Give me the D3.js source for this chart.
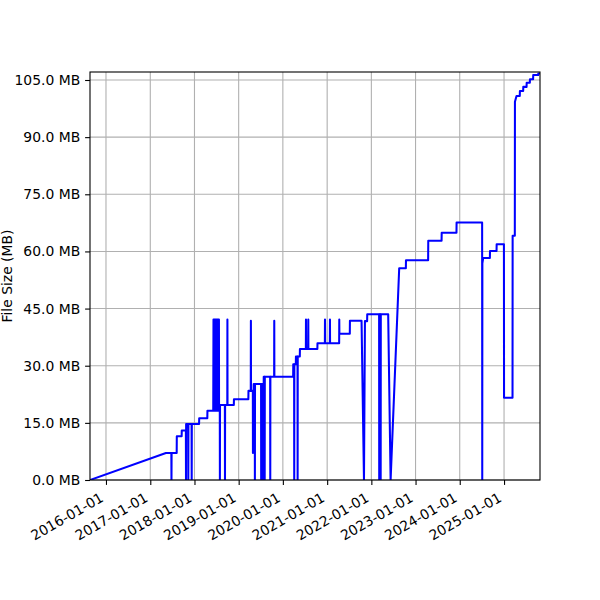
<!DOCTYPE html>
<html>
<head>
<meta charset="utf-8">
<script src="https://cdn.jsdelivr.net/npm/d3@7"></script>
<style>
  html, body { margin: 0; padding: 0; background: #fff; }
  svg { display: block; font-family: "DejaVu Sans", sans-serif; }
</style>
</head>
<body>
<div id="chart"></div>
<script>
// ---- data ----
const dates = [
  "2015-08-22","2017-05-10","2017-06-24","2017-06-25","2017-06-26","2017-08-07","2017-08-08",
  "2017-09-17","2017-09-18","2017-10-22","2017-10-23","2017-10-24","2017-11-10","2017-11-11",
  "2017-11-12","2017-12-08","2017-12-09","2017-12-10","2018-02-08","2018-02-09","2018-04-17",
  "2018-04-18","2018-06-05","2018-06-07","2018-06-10","2018-06-13","2018-06-16","2018-06-19",
  "2018-06-22","2018-06-25","2018-06-28","2018-07-01","2018-07-04","2018-07-07","2018-07-10",
  "2018-07-13","2018-07-16","2018-07-19","2018-07-22","2018-07-23","2018-07-29","2018-07-30",
  "2018-07-31","2018-09-09","2018-09-10","2018-09-11","2018-09-29","2018-09-30","2018-10-01",
  "2018-11-22","2018-11-23","2019-03-22","2019-03-23","2019-04-11","2019-04-12","2019-04-13",
  "2019-04-28","2019-04-29","2019-05-05","2019-05-14","2019-05-15","2019-05-16","2019-07-05",
  "2019-07-06","2019-07-07","2019-07-17","2019-07-18","2019-07-19","2019-07-25","2019-07-26",
  "2019-07-27","2019-08-03","2019-08-04","2019-08-05","2019-09-18","2019-09-19","2019-09-20",
  "2019-10-21","2019-10-22","2019-10-23","2020-03-26","2020-03-27","2020-04-03","2020-04-04",
  "2020-04-05","2020-04-17","2020-04-18","2020-05-01","2020-05-02","2020-05-03","2020-05-20",
  "2020-05-21","2020-07-09","2020-07-10","2020-07-11","2020-07-28","2020-07-29","2020-07-30",
  "2020-10-12","2020-10-13","2020-12-13","2020-12-14","2020-12-15","2021-01-23","2021-01-24",
  "2021-01-25","2021-04-10","2021-04-11","2021-04-12","2021-07-07","2021-07-08","2021-10-12",
  "2021-11-01","2021-11-09","2021-11-27","2021-11-28","2022-03-06","2022-03-07","2022-03-08",
  "2022-03-18","2022-03-19","2022-03-20","2022-05-20","2022-06-09","2022-08-19","2022-10-13",
  "2022-10-14","2023-04-15","2023-04-16","2023-08-04","2023-08-05","2023-12-05","2023-12-06",
  "2024-07-04","2024-07-05","2024-07-06","2024-07-13","2024-09-06","2024-09-07","2024-10-31",
  "2024-11-01","2024-12-31","2025-01-01","2025-03-12","2025-03-13","2025-03-31","2025-04-01",
  "2025-04-14","2025-05-11","2025-05-12","2025-06-08","2025-06-09","2025-07-06","2025-07-07",
  "2025-08-02","2025-08-03","2025-08-29","2025-08-30","2025-10-10","2025-10-11","2025-10-25"
];
const sizesMB = [
  0,7.1,7.1,0,7.1,7.1,11.5,
  11.5,13.0,13.0,0,14.7,14.7,0,
  14.7,14.7,0,14.7,14.7,16.2,16.2,
  18.2,18.2,42.1,18.2,42.1,18.2,42.1,
  18.2,42.1,18.2,42.1,18.2,42.1,18.2,
  42.1,18.2,42.1,42.1,19.7,19.7,0,
  19.7,19.7,0,19.7,19.7,42.1,19.7,
  19.7,21.2,21.2,23.4,23.4,41.8,23.4,
  23.4,7.1,25.2,25.2,0,25.2,25.2,
  0,25.2,25.2,0,25.2,25.2,0,
  27.1,27.1,0,27.1,27.1,0,27.1,
  27.1,41.8,27.1,27.1,30.4,30.4,0,
  30.4,30.4,32.4,32.4,0,32.4,32.4,
  34.4,34.4,42.1,34.4,34.4,42.1,34.4,
  34.4,35.9,35.9,42.1,35.9,35.9,42.1,
  35.9,35.9,42.1,38.4,38.4,41.8,41.8,
  0,41.7,41.7,43.5,43.5,0,43.5,
  43.5,0,43.5,43.5,0,55.6,55.6,
  57.7,57.7,62.8,62.8,64.9,64.9,67.6,
  67.6,0,56.9,58.3,58.3,60.1,60.1,
  61.9,61.9,21.6,21.6,64.1,64.1,99.3,
  100.8,100.8,102.1,102.1,103.2,103.2,104.3,
  104.3,105.2,105.2,106.3,106.3,106.7,106.7
];
const yTicks = [0, 15, 30, 45, 60, 75, 90, 105];
const xTickLabels = ["2016-01-01","2017-01-01","2018-01-01","2019-01-01","2020-01-01",
                     "2021-01-01","2022-01-01","2023-01-01","2024-01-01","2025-01-01"];
const yLabel = "File Size (MB)";
const yMax = 107.1;

// ---- layout ----
const W = 600, H = 600;
const M = { left: 90, right: 60, top: 72, bottom: 120 };
const iw = W - M.left - M.right, ih = H - M.top - M.bottom;
const FS = 13.9;

const parse = d3.utcParse("%Y-%m-%d");
const data = dates.map((d, i) => ({ t: parse(d), v: sizesMB[i] }));

const x = d3.scaleUtc().domain(d3.extent(data, d => d.t)).range([0, iw]);
const y = d3.scaleLinear().domain([0, yMax]).range([ih, 0]);

const svg = d3.select("#chart").append("svg").attr("width", W).attr("height", H);
const g = svg.append("g").attr("transform", `translate(${M.left},${M.top})`);

// grid
const xTickDates = xTickLabels.map(parse);
g.append("g").selectAll("line").data(xTickDates).join("line")
  .attr("x1", d => x(d)).attr("x2", d => x(d)).attr("y1", 0).attr("y2", ih)
  .attr("stroke", "#b0b0b0").attr("stroke-width", 1.1);
g.append("g").selectAll("line").data(yTicks).join("line")
  .attr("x1", 0).attr("x2", iw).attr("y1", d => y(d)).attr("y2", d => y(d))
  .attr("stroke", "#b0b0b0").attr("stroke-width", 1.1);

// clip + line
svg.append("defs").append("clipPath").attr("id", "clip")
  .append("rect").attr("width", iw).attr("height", ih);
const line = d3.line().x(d => x(d.t)).y(d => y(d.v));
g.append("path").datum(data)
  .attr("clip-path", "url(#clip)")
  .attr("fill", "none").attr("stroke", "#0000ff").attr("stroke-width", 2.05)
  .attr("stroke-linejoin", "round").attr("d", line);

// axes
const yAxis = d3.axisLeft(y).tickValues(yTicks).tickSize(4.9).tickPadding(4.9)
  .tickFormat(d => d.toFixed(1) + " MB");
const ya = g.append("g").call(yAxis);
ya.select(".domain").remove();
ya.selectAll("line").attr("stroke", "#000").attr("stroke-width", 1.1);
ya.selectAll("text").attr("font-size", FS).attr("fill", "#000")
  .attr("font-family", "DejaVu Sans");

const xAxis = d3.axisBottom(x).tickValues(xTickDates).tickSize(4.9)
  .tickFormat((d, i) => xTickLabels[i]);
const xa = g.append("g").attr("transform", `translate(0,${ih})`).call(xAxis);
xa.select(".domain").remove();
xa.selectAll("line").attr("stroke", "#000").attr("stroke-width", 1.1);
xa.selectAll("text")
  .attr("font-size", FS).attr("fill", "#000").attr("font-family", "DejaVu Sans")
  .attr("text-anchor", "end").attr("dy", null).attr("y", null)
  .attr("transform", "translate(-2,20.5) rotate(-30)");

// frame
g.append("rect").attr("width", iw).attr("height", ih)
  .attr("fill", "none").attr("stroke", "#000").attr("stroke-width", 1.1);

// y label
svg.append("text")
  .attr("transform", `translate(11.5,${M.top + ih / 2}) rotate(-90)`)
  .attr("text-anchor", "middle").attr("font-size", FS)
  .attr("font-family", "DejaVu Sans").attr("fill", "#000")
  .text(yLabel);
</script>
</body>
</html>
